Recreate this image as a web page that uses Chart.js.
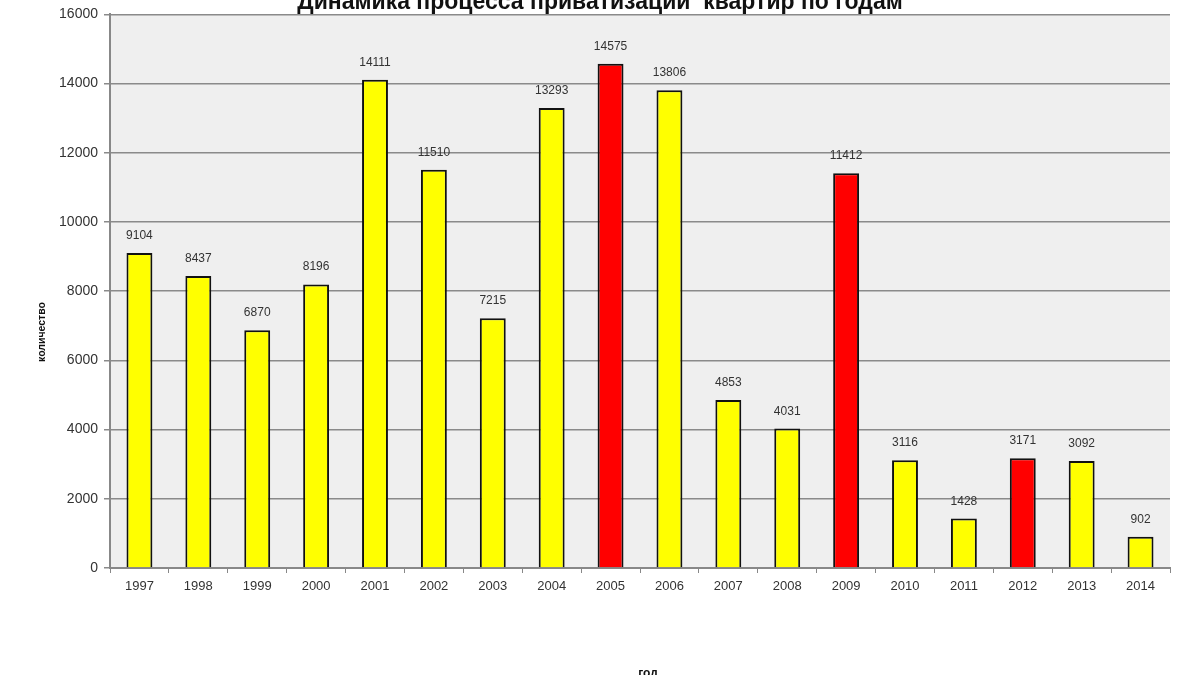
<!DOCTYPE html>
<html>
<head>
<meta charset="utf-8">
<script src="https://cdn.jsdelivr.net/npm/chart.js@4"></script>
<style>
  html, body { margin: 0; padding: 0; background: #fff; }
  #wrap { width: 1200px; height: 675px; position: relative; }
</style>
</head>
<body>
<div id="wrap"><canvas id="chart" width="1200" height="675"></canvas></div>
<script>
'use strict';

// данные
const years = ['1997', '1998', '1999', '2000', '2001', '2002', '2003', '2004', '2005',
               '2006', '2007', '2008', '2009', '2010', '2011', '2012', '2013', '2014'];
const counts = [9104, 8437, 6870, 8196, 14111, 11510, 7215, 13293, 14575,
                13806, 4853, 4031, 11412, 3116, 1428, 3171, 3092, 902];
const redYears = ['2005', '2009', '2012'];
const yTicks = [0, 2000, 4000, 6000, 8000, 10000, 12000, 14000, 16000];

const titleText = 'Динамика процесса приватизации  квартир по годам';
const yTitle = 'количество';
const xTitle = 'год';

const FONT = '"Liberation Sans", Arial, sans-serif';

// фон области построения
const plotBg = {
    id: 'plotBg',
    beforeDraw(chart) {
        const { ctx, chartArea: a } = chart;
        ctx.save();
        ctx.fillStyle = '#efefef';
        ctx.fillRect(a.left, a.top, a.right - a.left, a.bottom - a.top);
        ctx.restore();
    }
};

// подписи значений и заголовки
const labels = {
    id: 'labels',
    afterDraw(chart) {
        const { ctx } = chart;
        const meta = chart.getDatasetMeta(0);
        ctx.save();
        ctx.font = '12px ' + FONT;
        ctx.fillStyle = '#333';
        ctx.textAlign = 'center';
        ctx.textBaseline = 'alphabetic';
        meta.data.forEach((bar, i) => {
            ctx.fillText(String(counts[i]), bar.x, bar.y - 14);
        });

        ctx.fillStyle = '#111';
        ctx.font = 'bold 23px ' + FONT;
        ctx.fillText(titleText, 600, 9);

        ctx.font = 'bold 12px ' + FONT;
        ctx.textBaseline = 'top';
        ctx.fillText(xTitle, 648, 668);

        ctx.translate(42, 332);
        ctx.rotate(-Math.PI / 2);
        ctx.textBaseline = 'middle';
        ctx.font = 'bold 10.5px ' + FONT;
        ctx.fillText(yTitle, 0, 0);
        ctx.restore();
    }
};

new Chart(document.getElementById('chart'), {
    type: 'bar',
    data: {
        labels: years,
        datasets: [{
            data: counts,
            backgroundColor: years.map(y => redYears.includes(y) ? '#ff0000' : '#ffff00'),
            borderColor: '#111',
            borderWidth: 2,
            borderSkipped: 'bottom',
            barPercentage: 0.44,
            categoryPercentage: 1.0
        }]
    },
    options: {
        responsive: false,
        animation: false,
        layout: { padding: { top: 14, right: 30, bottom: 67, left: 0 } },
        plugins: {
            legend: { display: false },
            tooltip: { enabled: false }
        },
        scales: {
            x: {
                afterFit(s) { s.height = 40; },
                grid: { drawOnChartArea: false, drawTicks: true, tickLength: 5, color: '#888' },
                border: { color: '#888', width: 2 },
                ticks: { color: '#333', font: { family: FONT, size: 13 }, padding: 6 }
            },
            y: {
                min: 0,
                max: 16000,
                afterFit(s) { s.width = 110; },
                afterBuildTicks(s) { s.ticks = yTicks.map(v => ({ value: v })); },
                grid: { color: '#8a8a8a', lineWidth: 1.5, tickLength: 6 },
                border: { color: '#888', width: 2 },
                ticks: {
                    color: '#333',
                    font: { family: FONT, size: 14 },
                    padding: 6,
                    callback: v => String(v)
                }
            }
        }
    },
    plugins: [plotBg, labels]
});
</script>
</body>
</html>
